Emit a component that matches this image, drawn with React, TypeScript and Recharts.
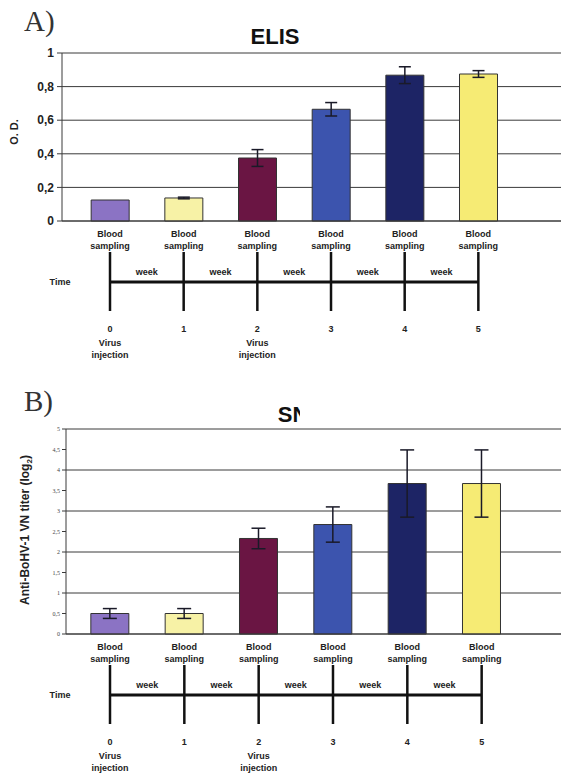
import React from "react";
import {
	BarChart,
	Bar,
	XAxis,
	YAxis,
	CartesianGrid,
	ErrorBar,
	Cell,
} from "recharts";

// sampling weeks on the timeline
const weeks = [0, 1, 2, 3, 4, 5];
const sampleLabel = ["Blood", "sampling"];
const events = ["Virus injection", "", "Virus injection", "", "", ""];
const gapLabel = "week";
const timeLabel = "Time";

// A) ELISA optical density
const elisaOD = [0.125, 0.137, 0.375, 0.665, 0.868, 0.875];
const elisaErr = [0, 0.005, 0.05, 0.04, 0.05, 0.02];
const elisaTicks = [0, 0.2, 0.4, 0.6, 0.8, 1];

// B) SN titer (log2)
const snTiter = [0.5, 0.5, 2.33, 2.67, 3.67, 3.67];
const snErr = [0.12, 0.12, 0.25, 0.43, 0.82, 0.82];
const snTicks = [0, 0.5, 1, 1.5, 2, 2.5, 3, 3.5, 4, 4.5, 5];

const barColors = ["#8b73c4", "#f7f2a6", "#6a1543", "#3c54ae", "#1d2465", "#f6eb74"];

const elisaData = weeks.map((w, i) => ({ week: w, value: elisaOD[i], err: elisaErr[i] }));
const snData = weeks.map((w, i) => ({ week: w, value: snTiter[i], err: snErr[i] }));

const SANS = "'Liberation Sans', Arial, sans-serif";
const SERIF = "'Liberation Serif', 'Times New Roman', serif";
const comma = (v: number) => String(v).replace(".", ",");

// each tick draws its part of the timeline under the bars
const TimelineTick = (props: any) => {
	const { x, y, payload, index, step } = props;
	const ev = events[index];
	const last = index === weeks.length - 1;
	return (
		<g fontFamily={SANS} fontWeight="bold" fontSize={9} fill="#222" textAnchor="middle">
			<text x={x} y={y + 16}>{sampleLabel[0]}</text>
			<text x={x} y={y + 28}>{sampleLabel[1]}</text>
			<line x1={x} x2={x} y1={y + 31} y2={y + 90} stroke="#111" strokeWidth={2.5} />
			{!last && (
				<line x1={x} x2={x + step} y1={y + 61} y2={y + 61} stroke="#111" strokeWidth={3} />
			)}
			{!last && <text x={x + step / 2} y={y + 54}>{gapLabel}</text>}
			{index === 0 && <text x={x - 50} y={y + 64}>{timeLabel}</text>}
			<text x={x} y={y + 111}>{payload.value}</text>
			{ev && (
				<>
					<text x={x} y={y + 125}>{ev.split(" ")[0]}</text>
					<text x={x} y={y + 137}>{ev.split(" ")[1]}</text>
				</>
			)}
		</g>
	);
};

// panel letter, title and y-axis title, laid over each chart
const Titles = ({ letter, title, titleX, titleY, yTitle, yx, yy, size }: any) => (
	<svg
		width={300}
		height={60 + yy * 2}
		style={{ position: "absolute", left: 0, top: 0, pointerEvents: "none" }}
	>
		<text x={24} y={31} fontFamily={SERIF} fontSize={29} fill="#333">{letter}</text>
		<text x={titleX} y={titleY} textAnchor="middle" fontFamily={SANS} fontWeight="bold" fontSize={22} fill="#111">
			{title}
		</text>
		<text
			x={yx}
			y={yy}
			transform={`rotate(-90 ${yx} ${yy})`}
			textAnchor="middle"
			fontFamily={SANS}
			fontWeight="bold"
			fontSize={size}
			fill="#222"
		>
			{yTitle}
		</text>
	</svg>
);

const App = () => {
	return (
		<div style={{ position: "absolute", left: 0, top: 0, width: 561, height: 774, background: "#fff" }}>
			<div style={{ position: "absolute", left: 0, top: 0 }}>
				<BarChart
					width={561}
					height={370}
					data={elisaData}
					margin={{ top: 53, right: 0, left: 22, bottom: 119 }}
				>
					<CartesianGrid vertical={false} stroke="#3a3a3a" />
					<XAxis
						dataKey="week"
						type="number"
						domain={[-0.6516, 6.1219]}
						ticks={weeks}
						height={30}
						stroke="#3a3a3a"
						tickLine={false}
						tickSize={0}
						tickMargin={0}
						interval={0}
						tick={(p: any) => <TimelineTick {...p} step={73.67} />}
					/>
					<YAxis
						width={40}
						domain={[0, 1]}
						ticks={elisaTicks}
						tickFormatter={comma}
						stroke="#3a3a3a"
						tickSize={5}
						tickMargin={3}
						tick={{ fontFamily: SANS, fontWeight: "bold", fontSize: 12, fill: "#222" }}
					/>
					<Bar dataKey="value" barSize={38} stroke="#333" strokeWidth={1} isAnimationActive={false}>
						{elisaData.map((d, i) => (
							<Cell key={d.week} fill={barColors[i]} />
						))}
						<ErrorBar dataKey="err" width={6} stroke="#1a1a28" strokeWidth={1.5} />
					</Bar>
				</BarChart>
				<Titles letter="A)" title="ELISA" titleX={283} titleY={44} yTitle="O. D." yx={18} yy={132} size={11} />
			</div>
			<div style={{ position: "absolute", left: 0, top: 380 }}>
				<BarChart
					width={561}
					height={394}
					data={snData}
					margin={{ top: 49, right: 0, left: 36, bottom: 110 }}
				>
					<CartesianGrid vertical={false} stroke="#3a3a3a" />
					<XAxis
						dataKey="week"
						type="number"
						domain={[-0.592, 6.0675]}
						ticks={weeks}
						height={30}
						stroke="#3a3a3a"
						tickLine={false}
						tickSize={0}
						tickMargin={0}
						interval={0}
						tick={(p: any) => <TimelineTick {...p} step={74.33} />}
					/>
					<YAxis
						width={30}
						domain={[0, 5]}
						ticks={snTicks}
						tickFormatter={comma}
						stroke="#3a3a3a"
						tickSize={4}
						tickMargin={2}
						tick={{ fontFamily: SERIF, fontSize: 6, fill: "#444" }}
					/>
					<Bar dataKey="value" barSize={38} stroke="#333" strokeWidth={1} isAnimationActive={false}>
						{snData.map((d, i) => (
							<Cell key={d.week} fill={barColors[i]} />
						))}
						<ErrorBar dataKey="err" width={7} stroke="#1a1a28" strokeWidth={1.5} />
					</Bar>
				</BarChart>
				<Titles
					letter="B)"
					title="SN"
					titleX={293}
					titleY={42}
					yTitle={
						<>
							Anti-BoHV-1 VN titer (log
							<tspan fontSize={8} dy={3}>2</tspan>
							<tspan dy={-3}>)</tspan>
						</>
					}
					yx={29}
					yy={150}
					size={12}
				/>
			</div>
		</div>
	);
};

export default App;
